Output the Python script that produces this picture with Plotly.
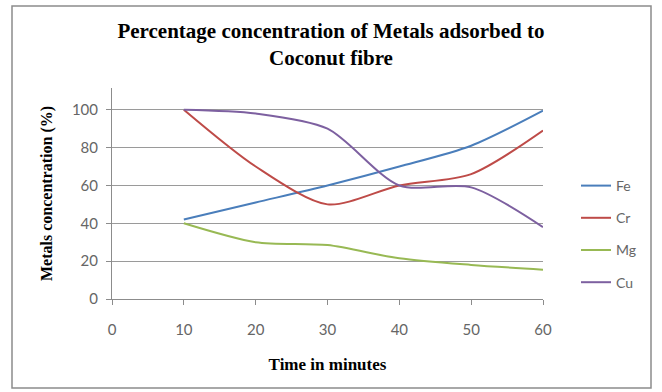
import plotly.graph_objects as go

time_min = [10, 20, 30, 40, 50, 60]
fe = [42, 51, 60, 70, 81, 99.5]
cr = [100, 70, 50, 60, 66, 89]
mg = [40, 30, 28.5, 21.5, 18, 15.5]
cu = [100, 98, 90, 60, 59, 38]

series_names = ["Fe", "Cr", "Mg", "Cu"]
series_values = [fe, cr, mg, cu]
colors = ["#4A7EBB", "#BE4B48", "#98B954", "#7D60A0"]

x_ticks = [0, 10, 20, 30, 40, 50, 60]
y_ticks = [0, 20, 40, 60, 80, 100]

fig = go.Figure()
for i, (name, vals, col) in enumerate(zip(series_names, series_values, colors)):
    fig.add_trace(go.Scatter(
        x=time_min, y=vals, name=name, mode="lines",
        line=dict(color=col, width=2, shape="spline", smoothing=0.8),
        legendgroup=f"g{i}",
    ))

W, H = 662, 392
L, R, T, B = 112, 119, 88, 93
pw, ph = W - L - R, H - T - B

def px(x):
    return (x - L) / pw

def py(y):
    return (H - B - y) / ph

fig.update_layout(
    width=W, height=H,
    margin=dict(l=L, r=R, t=T, b=B),
    paper_bgcolor="white", plot_bgcolor="white",
    title=dict(
        text="Percentage concentration of Metals adsorbed to<br>Coconut fibre",
        x=0.5, xref="container", xanchor="center",
        y=1 - 37.5 / H, yref="container", yanchor="middle",
        font=dict(family="Liberation Serif", size=21, color="black", weight="bold"),
    ),
    xaxis=dict(
        range=[0, 60], tickvals=x_ticks, ticktext=[str(v) for v in x_ticks],
        showgrid=False, showline=True, linecolor="#8c8c8c", linewidth=1,
        ticks="outside", ticklen=5, tickcolor="#8c8c8c",
        ticklabelstandoff=12,
        tickfont=dict(family="Lato", size=15, color="#666666"),
        zeroline=False,
        title=dict(text="Time in minutes", standoff=21,
                   font=dict(family="Liberation Serif", size=17, color="black", weight="bold")),
    ),
    yaxis=dict(
        range=[0, 111.5], tickvals=y_ticks, ticktext=[str(v) for v in y_ticks],
        showgrid=True, gridcolor="#9a9a9a", gridwidth=1,
        showline=True, linecolor="#8c8c8c", linewidth=1,
        ticks="outside", ticklen=5, tickcolor="#8c8c8c",
        ticklabelstandoff=5,
        tickfont=dict(family="Lato", size=15, color="#666666"),
        zeroline=False,
        title=dict(text="Metals concentration (%)", standoff=15,
                   font=dict(family="Liberation Serif", size=16, color="black", weight="bold")),
    ),
    legend=dict(
        x=px(576), y=py(170), xanchor="left", yanchor="top",
        font=dict(family="Lato", size=14, color="#666666"),
        tracegroupgap=11, bgcolor="rgba(0,0,0,0)",
        itemwidth=30,
    ),
    showlegend=True,
    shapes=[dict(
        type="rect", xref="paper", yref="paper",
        x0=px(12), x1=px(651), y0=py(388), y1=py(6),
        line=dict(color="#8c8c8c", width=1.5), fillcolor="rgba(0,0,0,0)",
        layer="below",
    )],
)

fig.write_html("out.html")
